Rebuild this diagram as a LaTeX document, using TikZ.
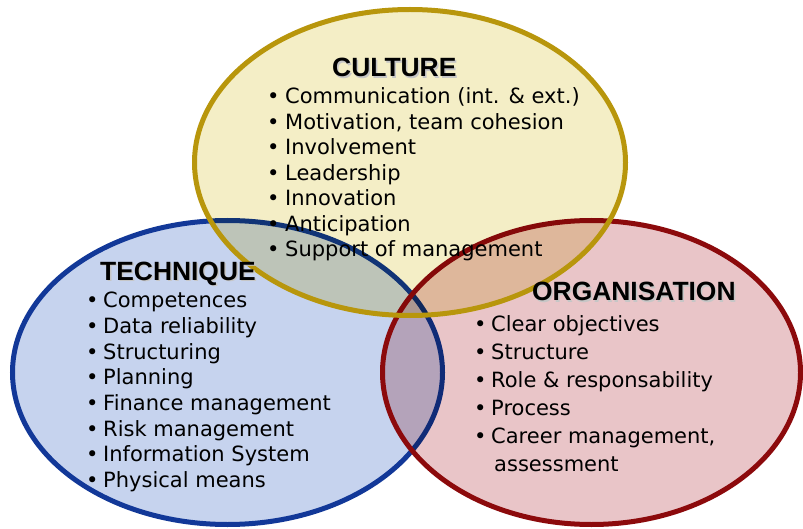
\documentclass[tikz,border=0pt]{standalone}
\usepackage{fontspec}
\setmainfont{DejaVu Sans}
\newfontfamily\titlefont{Liberation Sans}
\definecolor{techfill}{RGB}{198,211,238}
\definecolor{techline}{RGB}{18,56,152}
\definecolor{orgfill}{RGB}{233,197,200}
\definecolor{orgline}{RGB}{140,10,12}
\definecolor{culfill}{RGB}{244,238,198}
\definecolor{culline}{RGB}{184,150,12}
\begin{document}
\begin{tikzpicture}[x=1pt,y=-1pt,
  ring/.style={line width=5pt},
  item/.style={anchor=base west, inner sep=0pt, font=\fontsize{21}{25}\selectfont},
  ttl/.style={anchor=base west, inner sep=0pt, font=\titlefont\bfseries\fontsize{26.4}{30}\selectfont},
  shadow/.style={ttl, text=gray!45}]
\useasboundingbox (0,0) rectangle (803,529);
\coordinate (ctech) at (227.5,372.5);
\coordinate (corg) at (591.5,372.5);
\coordinate (ccul) at (410,162.5);
% technique
\fill[techfill] (ctech) ellipse [x radius=215, y radius=152];
\draw[ring, techline] (ctech) ellipse [x radius=215, y radius=152];
% organisation
\fill[orgfill, blend mode=multiply] (corg) ellipse [x radius=209, y radius=152];
\draw[ring, orgline] (corg) ellipse [x radius=209, y radius=152];
% culture
\fill[culfill, blend mode=multiply] (ccul) ellipse [x radius=215.5, y radius=153];
\draw[ring, culline] (ccul) ellipse [x radius=215.5, y radius=153];
% titles
\node[shadow] at (333.5,78.5) {CULTURE};
\node[ttl] (tcul) at (332,77) {CULTURE};
\node[shadow] at (101.5,281.5) {TECHNIQUE};
\node[ttl] (ttech) at (100,280) {TECHNIQUE};
\node[shadow] at (533.5,302.5) {ORGANISATION};
\node[ttl] (torg) at (532,301) {ORGANISATION};
% culture items
\foreach \t [count=\i] in {Communication (int. \& ext.), {Motivation, team cohesion}, Involvement, Leadership, Innovation, Anticipation, Support of management}{
  \node[item] (cb\i) at (267,{104+(\i-1)*25.5}) {•};
  \node[item] (ci\i) at (285,{104+(\i-1)*25.5}) {\t};
}
% technique items
\foreach \t [count=\i] in {Competences, Data reliability, Structuring, Planning, Finance management, Risk management, Information System, Physical means}{
  \node[item] (tb\i) at (86,{308+(\i-1)*25.6}) {•};
  \node[item] (ti\i) at (103,{308+(\i-1)*25.6}) {\t};
}
% organisation items
\foreach \t [count=\i] in {Clear objectives, Structure, Role \& responsability, Process, {Career management,}}{
  \node[item] (ob\i) at (474,{331+(\i-1)*28}) {•};
  \node[item] (oi\i) at (491,{331+(\i-1)*28}) {\t};
}
\node[item] (oi6) at (494,471) {assessment};
\end{tikzpicture}
\end{document}
